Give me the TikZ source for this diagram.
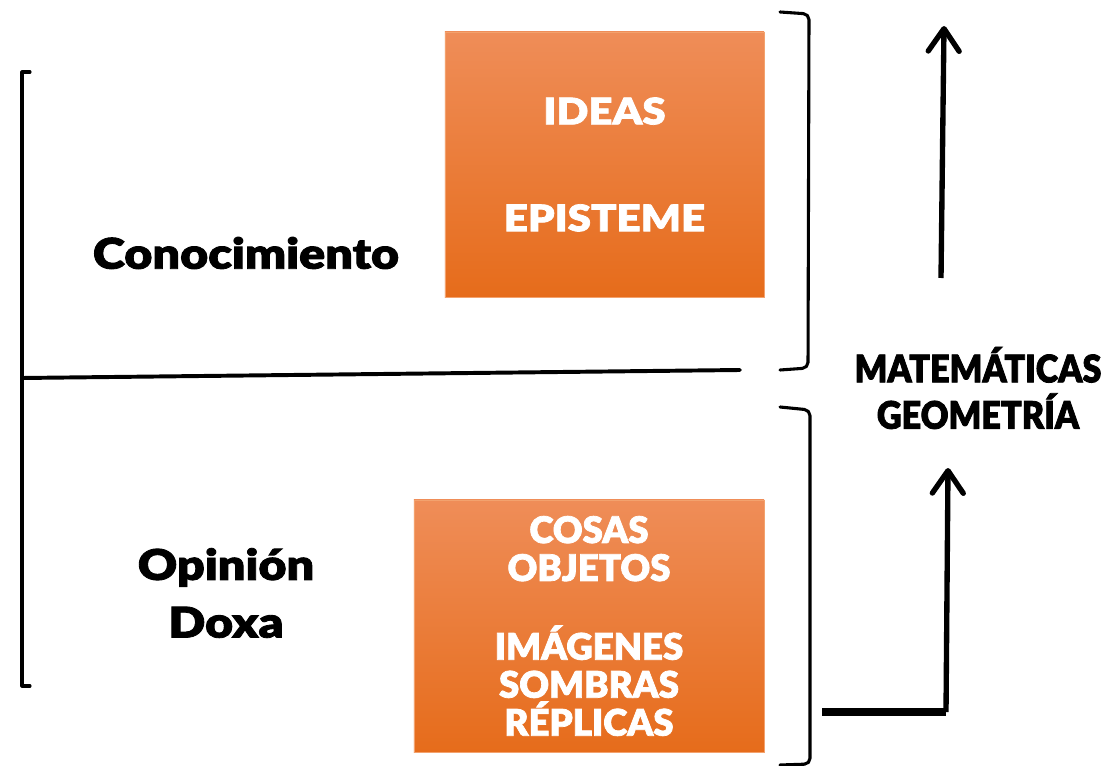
\documentclass[tikz,border=0pt]{standalone}
\usepackage{fontspec}
\usepackage{tikz}
\usetikzlibrary{arrows.meta, positioning}
\newfontfamily\heavywide{Lato Black}[FakeStretch=1.15, FakeBold=2]
\newfontfamily\heavy{Lato Black}[FakeStretch=1.0, FakeBold=2]
\newfontfamily\heavynarrow{Lato Black}[FakeStretch=0.9, FakeBold=2]
\definecolor{boxtop}{HTML}{EF8D58}
\definecolor{boxbot}{HTML}{E66C1B}
\definecolor{boxline}{HTML}{F3A26E}
\tikzset{
  brk/.style={line width=2.2pt, line cap=round, line join=round},
  orangebox/.style={draw=boxline, thin, top color=boxtop, bottom color=boxbot,
    text=white, align=center, inner sep=0pt},
  bigword/.style={font=\heavywide\fontsize{30}{41}\selectfont, align=center},
  mathword/.style={font=\heavynarrow\fontsize{27}{33}\selectfont, align=center},
  upar/.style={line width=3.8pt, -{Straight Barb[length=16pt,width=22pt,round]}}
}
\begin{document}
\begin{tikzpicture}[x=0.025cm, y=-0.025cm]
\useasboundingbox (0,0) rectangle (1110,766);

% Boxes
\node[orangebox, minimum width=7.975cm, minimum height=6.625cm,
  font=\heavywide\fontsize{26}{30}\selectfont] (episteme) at (604.5,164.5)
  {IDEAS\\[46pt]EPISTEME};
\node[orangebox, minimum width=8.75cm, minimum height=6.3cm,
  font=\heavy\fontsize{26}{27}\selectfont] (doxabox) at (589,626)
  {COSAS\\OBJETOS\\[29pt]IMÁGENES\\SOMBRAS\\RÉPLICAS};

% Labels
\node[bigword] (conoc) at (246,253) {Conocimiento};
\node[bigword] (opinion) at (226,593) {Opinión\\Doxa};
\node[mathword] (mate) at (978,388) {MATEMÁTICAS\\GEOMETRÍA};

% Brackets
\draw[brk] (30,72) -- (22,72) -- (22,686) -- (30,686);
\draw[brk, line width=2.8pt] (22,378) -- (740,370);
\draw[brk, rounded corners=4] (780,12) -- (809,14) -- (808,368) -- (780,370);
\draw[brk, rounded corners=4] (780,407) -- (810,410) -- (810,764) -- (780,765);

% Arrows
\coordinate (topstart) at (941,278);
\coordinate (topend) at (944,26);
\coordinate (botstart) at (822,712);
\coordinate (botturn) at (946,712);
\coordinate (botend) at (948,468);
\draw[upar] (topstart) -- (topend);
\draw[line width=5pt] (botstart) -- (botturn);
\draw[upar] (botturn) -- (botend);
\end{tikzpicture}
\end{document}
